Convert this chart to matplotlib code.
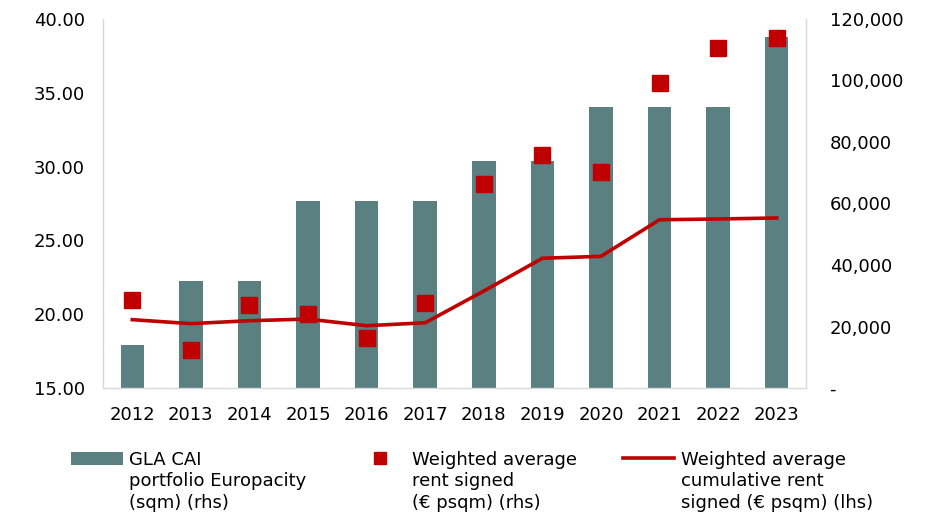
import matplotlib
matplotlib.use('Agg')
import matplotlib.pyplot as plt
from matplotlib.ticker import FixedLocator, FuncFormatter

# ---- data ----
years = ['2012', '2013', '2014', '2015', '2016', '2017',
         '2018', '2019', '2020', '2021', '2022', '2023']
gla_sqm = [14100, 34700, 34700, 60900, 60900, 60900,
           73700, 73700, 91300, 91300, 91300, 114200]
rent_signed = [20.96, 17.57, 20.62, 20.04, 18.40, 20.76,
               28.82, 30.81, 29.63, 35.66, 38.04, 38.71]
cum_rent = [19.63, 19.36, 19.56, 19.67, 19.22, 19.42,
            21.57, 23.79, 23.92, 26.40, 26.45, 26.52]
left_ticks = [15, 20, 25, 30, 35, 40]
right_ticks = [0, 20000, 40000, 60000, 80000, 100000, 120000]
legend_labels = ["GLA CAI\nportfolio Europacity\n(sqm) (rhs)",
                 "Weighted average\nrent signed\n(\u20ac psqm) (rhs)",
                 "Weighted average\ncumulative rent\nsigned (\u20ac psqm) (lhs)"]

W_PX, H_PX = 935, 513
BAR_C = '#5B8082'
RED = '#C00000'
GRID_C = '#D9D9D9'
FS_TICK = 13
FS_LEG = 13

plt.rcParams['font.family'] = ['DejaVu Sans']

fig = plt.figure(figsize=(W_PX / 100, H_PX / 100), dpi=100)
ax = fig.add_axes([103 / W_PX, (H_PX - 388) / H_PX, (806 - 103) / W_PX, (388 - 19) / H_PX])
ax2 = ax.twinx()
ax.set_zorder(2)
ax2.set_zorder(1)
ax.patch.set_visible(False)

x = list(range(len(years)))
bars = ax2.bar(x, gla_sqm, width=0.4, color=BAR_C, zorder=2)
sq, = ax.plot(x, rent_signed, linestyle='none', marker='s', markersize=11.5,
              color=RED, zorder=4)
ln, = ax.plot(x, cum_rent, color=RED, linewidth=2.6, zorder=3,
              solid_joinstyle='miter')

ax.set_xlim(-0.5, len(years) - 0.5)
ax.set_ylim(15, 40)
ax2.set_ylim(0, 120000)
ax.set_xticks(x)
ax.set_xticklabels(years)
ax.yaxis.set_major_locator(FixedLocator(left_ticks))
ax.yaxis.set_major_formatter(FuncFormatter(lambda v, p: f'{v:.2f}'))
ax2.yaxis.set_major_locator(FixedLocator(right_ticks))
ax2.yaxis.set_major_formatter(FuncFormatter(lambda v, p: '-' if v == 0 else f'{int(v):,}'))

ax.tick_params(axis='x', length=0, pad=13, labelsize=FS_TICK)
ax.tick_params(axis='y', length=0, pad=13, labelsize=FS_TICK)
ax2.tick_params(axis='y', length=0, pad=17, labelsize=FS_TICK)

for a in (ax, ax2):
    a.spines['top'].set_visible(False)
    for s in ('left', 'right', 'bottom'):
        a.spines[s].set_color(GRID_C)
        a.spines[s].set_linewidth(1.0)
ax.spines['right'].set_visible(False)
ax2.spines['left'].set_visible(False)
ax2.spines['bottom'].set_visible(False)

# ---- legend: one entry per column, first line with handle, rest below ----
handles = [bars, sq, ln]
hx = [71, 353.7, 622.7]
legs = []
for h, lab, xh in zip(handles, legend_labels, hx):
    parts = lab.split('\n')
    leg = fig.legend([h], [parts[0]], loc='upper left',
                     bbox_to_anchor=(xh / W_PX, (H_PX - 450.6) / H_PX),
                     frameon=False, borderpad=0, borderaxespad=0,
                     handlelength=2.86, handletextpad=0.35, fontsize=FS_LEG,
                     markerscale=0.69, numpoints=1)
    legs.append((leg, parts))

fig.canvas.draw()
inv = fig.transFigure.inverted()
for leg, parts in legs:
    t = leg.get_texts()[0]
    x0, y0 = t.get_transform().transform(t.get_position())
    for k, line in enumerate(parts[1:], start=1):
        fx, fy = inv.transform((x0, y0 - k * 21.7))
        fig.text(fx, fy, line, fontsize=FS_LEG, ha='left', va='baseline')

fig.savefig('out.png', dpi=100)
